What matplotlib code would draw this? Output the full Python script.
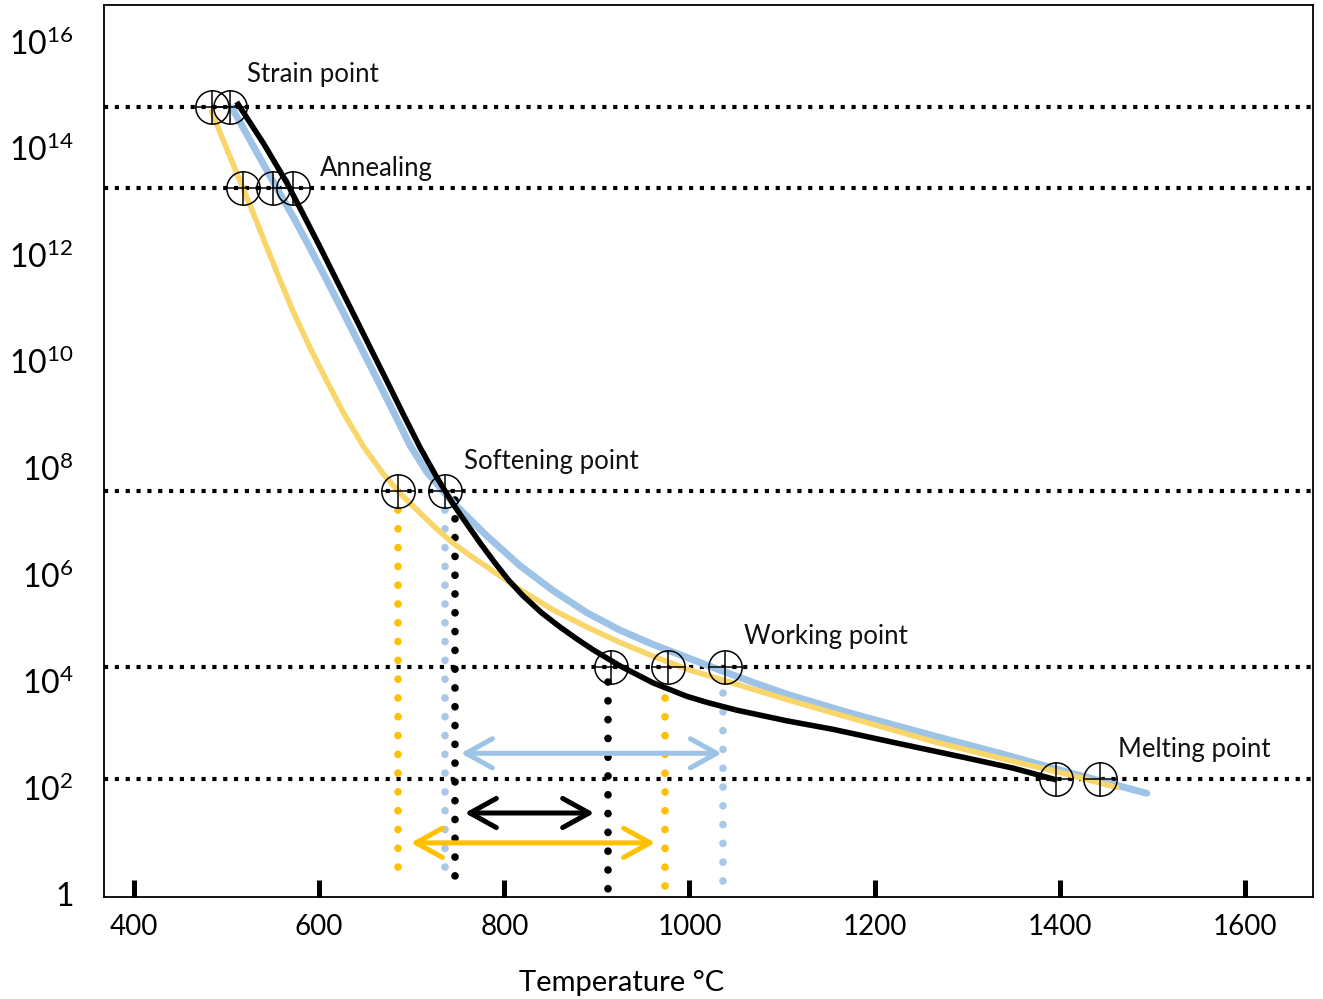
import numpy as np
import matplotlib
matplotlib.use("Agg")
import matplotlib.pyplot as plt
from matplotlib.patches import FancyArrowPatch

plt.rcParams['font.family'] = ['Lato', 'DejaVu Sans']
plt.rcParams['mathtext.fontset'] = 'custom'
plt.rcParams['mathtext.rm'] = 'Lato'
plt.rcParams['mathtext.it'] = 'Lato'

# viscosity curves, temperature in degC, log10(viscosity)
black_T = [510.9, 540.0, 564.9, 582.9, 600.9, 619.0, 636.9, 654.9, 673.0, 690.9,
           708.9, 727.0, 744.9, 760.0, 775.0, 790.0, 805.0, 820.0, 840.0, 860.1,
           878.0, 896.1, 925.0, 960.9, 997.0, 1020.0, 1051.0, 1105.0, 1155.0, 1227.0,
           1300.0, 1350.0, 1396.7]
black_logv = [14.86, 14.08, 13.35, 12.75, 12.14, 11.51, 10.89, 10.26, 9.63, 9.00,
              8.38, 7.82, 7.31, 6.93, 6.56, 6.21, 5.88, 5.60, 5.28, 5.01,
              4.79, 4.58, 4.28, 3.96, 3.71, 3.59, 3.45, 3.25, 3.09, 2.82,
              2.55, 2.36, 2.14]

blue_T = [505.9, 550.5, 572.1, 590.1, 608.1, 626.1, 644.1, 662.2, 680.1, 698.1,
          716.2, 733.8, 744.9, 781.0, 816.9, 852.9, 889.0, 925.0, 960.9, 997.0,
          1033.0, 1068.9, 1105.0, 1162.6, 1191.4, 1263.4, 1335.4, 1407.5, 1493.9]
blue_logv = [14.75, 13.36, 12.70, 12.12, 11.52, 10.91, 10.29, 9.67, 9.05, 8.42,
             7.92, 7.56, 7.34, 6.72, 6.16, 5.69, 5.28, 4.95, 4.68, 4.44,
             4.20, 3.97, 3.75, 3.45, 3.31, 2.97, 2.64, 2.29, 1.89]

yellow_T = [483.9, 503.7, 514.5, 528.9, 543.3, 557.7, 572.1, 590.1, 608.1, 626.1,
            647.7, 669.3, 687.3, 708.9, 727.0, 744.9, 763.0, 781.0, 816.9, 852.9,
            889.0, 925.0, 960.9, 997.0, 1033.0, 1068.9, 1105.0, 1162.6, 1227.4, 1263.4,
            1335.4, 1407.5, 1461.5]
yellow_logv = [14.68, 13.83, 13.38, 12.77, 12.14, 11.52, 10.92, 10.25, 9.63, 9.03,
               8.40, 7.88, 7.52, 7.15, 6.85, 6.58, 6.35, 6.14, 5.71, 5.33,
               5.01, 4.72, 4.46, 4.22, 4.03, 3.84, 3.65, 3.36, 3.04, 2.86,
               2.55, 2.25, 2.00]

# fixed points (horizontal reference lines)
point_names = ['Strain point', 'Annealing', 'Softening point', 'Working point', 'Melting point']
point_logv = [14.77, 13.25, 7.56, 4.26, 2.16]
label_T = [522.1, 600.9, 756.4, 1058.9, 1462.9]
label_logv = [15.37, 13.62, 8.11, 4.84, 2.72]

# circle markers on each reference line
marker_T = [[483.9, 503.7], [517.7, 550.1, 571.7], [685.2, 735.9],
            [915.2, 976.8, 1038.4], [1395.9, 1443.4]]

# vertical dotted drop lines: T, top logv, bottom logv, colour
drop_T = [685.2, 735.9, 746.7, 912.0, 973.6, 1036.2]
drop_top = [7.2, 7.2, 7.4, 3.98, 3.68, 3.77]
drop_bot = [0.17, 0.17, 0.04, 0.04, 0.11, 0.2]
drop_col = ['#FFC000', '#A9C8E8', 'black', 'black', '#FFC000', '#A9C8E8']

# working ranges (double arrows)
arrow_T0 = [750.0, 754.3, 696.0]
arrow_T1 = [1038.0, 900.1, 966.0]
arrow_logv = [2.64, 1.52, 0.96]
arrow_col = ['#9DC3E6', 'black', '#FFC000']

ytick_pos = list(range(0, 17, 2))
ytick_lab = ['1'] + ['$10^{%d}$' % p for p in ytick_pos[1:]]
xtick_pos = [400, 600, 800, 1000, 1200, 1400, 1600]

fig = plt.figure(figsize=(13.23, 9.99), dpi=100)
ax = fig.add_axes([104/1323, 1-897/999, (1313-104)/1323, (897-5)/999])

ax.set_yscale('log')
ax.set_xlim(367.6, 1673.5)
ax.set_ylim(10**-0.056, 10**16.68)

# horizontal reference lines
for lv in point_logv:
    ax.axhline(10**lv, color='black', lw=3, linestyle=(0, (1, 1.6)),
               dash_capstyle='butt', zorder=2)

# vertical dotted lines
for T, t, b, c in zip(drop_T, drop_top, drop_bot, drop_col):
    ax.plot([T, T], [10**t, 10**b], color=c, lw=5.5,
            linestyle=(0, (0.01, 2.45)), dash_capstyle='round', zorder=3)

# curves
ax.plot(blue_T, 10**np.array(blue_logv), color='#9DC3E6', lw=5,
        solid_capstyle='round', solid_joinstyle='round', zorder=4)
ax.plot(yellow_T, 10**np.array(yellow_logv), color='#F9D66A', lw=4,
        solid_capstyle='round', solid_joinstyle='round', zorder=5)
ax.plot(black_T, 10**np.array(black_logv), color='black', lw=4,
        solid_capstyle='butt', solid_joinstyle='round', zorder=6)

# arrows
for x0, x1, lv, c in zip(arrow_T0, arrow_T1, arrow_logv, arrow_col):
    arr = FancyArrowPatch((x0, 10**lv), (x1, 10**lv),
                          arrowstyle='<->,head_length=1.9,head_width=1.05',
                          mutation_scale=10, color=c, lw=3.6,
                          capstyle='round', joinstyle='round', zorder=6)
    ax.add_patch(arr)

# circled crosshair markers
for lv, Ts in zip(point_logv, marker_T):
    yy = [10**lv] * len(Ts)
    ax.plot(Ts, yy, 'o', ms=24, mfc='none', mec='black', mew=1.1, zorder=8)
    ax.plot(Ts, yy, '+', ms=24, mec='black', mew=1.1, zorder=8)

for name, T, lv in zip(point_names, label_T, label_logv):
    ax.text(T, 10**lv, name, fontsize=18.5, ha='left', va='center', color='#111111')

ax.set_xticks(xtick_pos)
ax.set_xticklabels([str(t) for t in xtick_pos], fontsize=20)
ax.tick_params(axis='x', direction='in', length=12, width=3.6, pad=12)
ax.set_yticks([10**p for p in ytick_pos])
ax.set_yticklabels(ytick_lab, fontsize=23)
ax.yaxis.set_minor_locator(matplotlib.ticker.NullLocator())
ax.tick_params(axis='y', length=0, pad=22)
for s in ax.spines.values():
    s.set_linewidth(1.3)

fig.text(622/1323, 1-983/999, 'Temperature \u00b0C', fontsize=21,
         ha='center', va='center')

fig.savefig('out.png', dpi=100)
